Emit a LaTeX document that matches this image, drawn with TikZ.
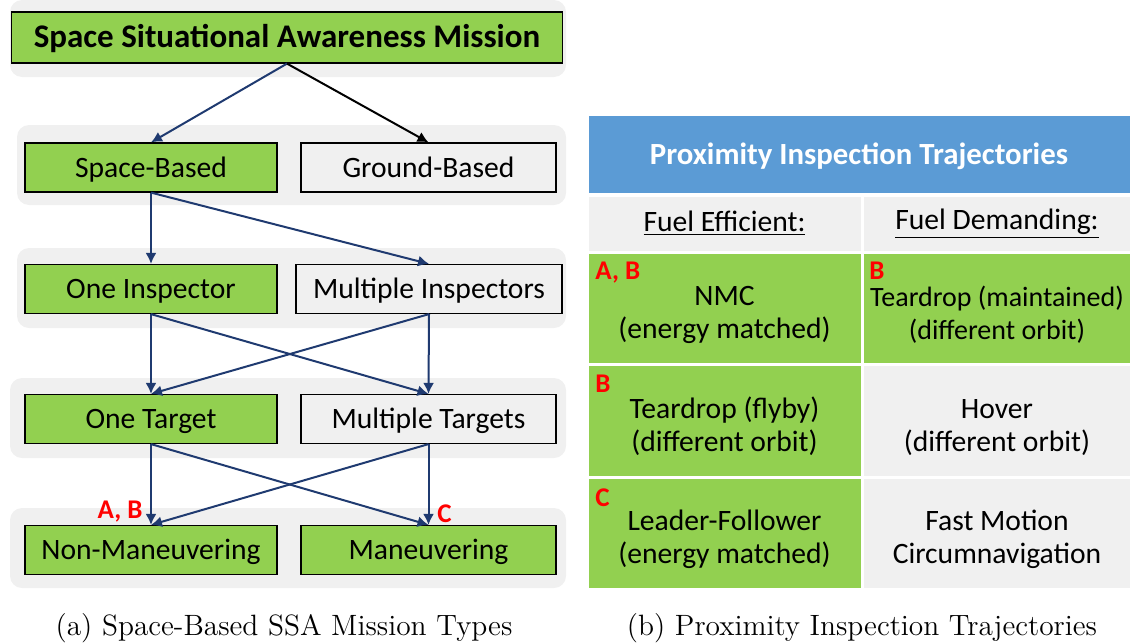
\documentclass[tikz,border=0pt]{standalone}
\usepackage{fontspec}
\usetikzlibrary{arrows.meta,positioning}
\newfontfamily\boxfont{Carlito}
\definecolor{ssagreen}{HTML}{92D050}
\definecolor{ssagray}{HTML}{F0F0F0}
\definecolor{ssablue}{HTML}{5B9BD5}
\definecolor{ssanavy}{HTML}{1F3A70}
\definecolor{ssared}{HTML}{FF0000}
\newcommand{\fl}{\rule{0pt}{17pt}}

\tikzset{
  band/.style={fill=ssagray, rounded corners=6pt},
  boxnode/.style={draw=black, line width=0.6pt, minimum height=24.5pt, inner sep=0pt,
    text height=9.5pt, text depth=0pt, font=\boxfont\fontsize{14.8}{17}\selectfont},
  on/.style={boxnode, fill=ssagreen},
  off/.style={boxnode, fill=ssagray},
  link/.style={ssanavy, line width=1pt, -{Latex[length=5.5pt,width=5.5pt]}},
  cell/.style={draw=white, line width=1.5pt, inner sep=0pt, align=center,
    font=\boxfont\fontsize{14.8}{16.5}\selectfont},
  tag/.style={text=ssared, font=\boxfont\bfseries\fontsize{13.5}{15}\selectfont, inner sep=0pt},
  caption/.style={font=\fontsize{14.7}{17}\selectfont}
}

\begin{document}
\begin{tikzpicture}[x=0.5pt,y=-0.5pt]
\useasboundingbox (0,0) rectangle (1130,643);

% gray bands behind each level
\fill[band] (10,0) rectangle (566,77);
\fill[band] (17,125) rectangle (566,205);
\fill[band] (17,248) rectangle (566,328);
\fill[band] (10,378) rectangle (566,458);
\fill[band] (10,508) rectangle (566,588);

\node[on, minimum width=275.5pt, minimum height=25.5pt, text height=10pt,
  font=\boxfont\bfseries\fontsize{16.5}{18}\selectfont] (mission) at (287,37.5) {Space Situational Awareness Mission};

\node[on, minimum width=126pt] (space) at (151,167.5) {Space-Based};
\node[off, minimum width=127.5pt] (ground) at (428.5,167.5) {Ground-Based};
\node[on, minimum width=126pt] (oneinsp) at (151,289) {One Inspector};
\node[off, minimum width=133pt] (multinsp) at (429,289) {Multiple Inspectors};
\node[on, minimum width=126pt] (onetgt) at (151,419) {One Target};
\node[off, minimum width=127.5pt] (multtgt) at (428.5,419) {Multiple Targets};
\node[on, minimum width=126pt] (nonman) at (151,550) {Non-Maneuvering};
\node[on, minimum width=127.5pt] (man) at (428.5,550) {Maneuvering};

\draw[link] (mission.south) -- (space.north);
\draw[link, black] (mission.south) -- (ground.north);
\draw[link] (space.south) -- (oneinsp.north);
\draw[link] (space.south) -- (multinsp.north);
\draw[link] (oneinsp.south) -- (onetgt.north);
\draw[link] (oneinsp.south) -- (multtgt.north);
\draw[link] (multinsp.south) -- (onetgt.north);
\draw[link] (multinsp.south) -- (multtgt.north);
\draw[link] (onetgt.south) -- (nonman.north);
\draw[link] (onetgt.south) -- (man.north);
\draw[link] (multtgt.south) -- (nonman.north);
\draw[link] (multtgt.south) -- (man.north);

\node[tag, anchor=south east] (tagab) at (143,523) {A, B};
\node[tag, anchor=south west] (tagc) at (437,523) {C};

% trajectory table
\node[cell, fill=ssablue, minimum width=272pt, minimum height=40pt, text height=10pt, text depth=0pt,
  font=\boxfont\bfseries\fontsize{15.4}{18}\selectfont, text=white] (head) at (859,154) {Proximity Inspection Trajectories};

\node[cell, fill=ssagray, minimum width=137.5pt, minimum height=28.5pt] (eff) at (724.5,223.5) {\underline{Fuel Efficient:}};
\node[cell, fill=ssagray, minimum width=135pt, minimum height=28.5pt] (dem) at (997,223.5) {\underline{Fuel Demanding:}};

\node[cell, fill=ssagreen, minimum width=137.5pt, minimum height=56pt] (nmc) at (724.5,308) {\fl NMC\\(energy matched)};
\node[cell, fill=ssagreen, minimum width=135pt, minimum height=56pt,
  font=\boxfont\fontsize{14}{16.5}\selectfont] (tdmain) at (997,308) {\fl Teardrop (maintained)\\(different orbit)};
\node[cell, fill=ssagreen, minimum width=137.5pt, minimum height=56.5pt] (tdfly) at (724.5,420.5) {\fl Teardrop (flyby)\\(different orbit)};
\node[cell, fill=ssagray, minimum width=135pt, minimum height=56.5pt] (hover) at (997,420.5) {\fl Hover\\(different orbit)};
\node[cell, fill=ssagreen, minimum width=137.5pt, minimum height=56pt] (leader) at (724.5,533) {\fl Leader-Follower\\(energy matched)};
\node[cell, fill=ssagray, minimum width=135pt, minimum height=56pt] (fmc) at (997,533) {\fl Fast Motion\\Circumnavigation};

\node[tag, anchor=north west] (tagnmc) at (595,262) {A, B};
\node[tag, anchor=north west] (tagmain) at (869,262) {B};
\node[tag, anchor=north west] (tagfly) at (595,375) {B};
\node[tag, anchor=north west] (tagleader) at (595,488) {C};

\node[caption] (capa) at (284,628) {(a) Space-Based SSA Mission Types};
\node[caption] (capb) at (862,628) {(b) Proximity Inspection Trajectories};
\end{tikzpicture}
\end{document}
